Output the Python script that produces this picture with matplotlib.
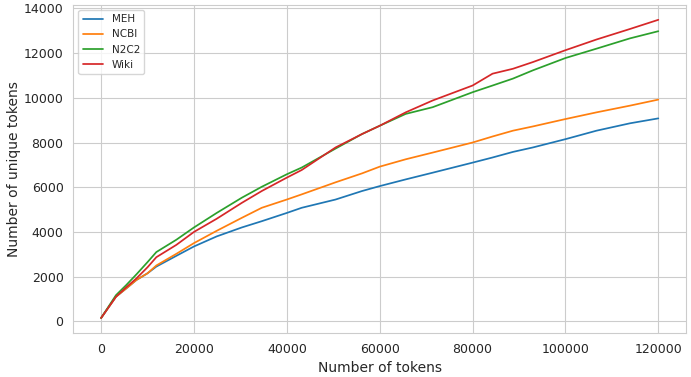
import matplotlib
matplotlib.use('Agg')
import matplotlib.pyplot as plt
import seaborn as sns

# values
n_tokens = [0, 3200, 5400, 7600, 10000, 11900, 16200, 20000, 24900, 30300,
            34600, 40000, 43200, 50500, 56200, 60000, 65600, 71400, 80000,
            84300, 88700, 93000, 100000, 106700, 113900, 120000]
meh = [150, 1100, 1470, 1850, 2150, 2450, 2930, 3350, 3800, 4200,
       4480, 4850, 5080, 5450, 5830, 6050, 6350, 6650, 7100,
       7330, 7580, 7780, 8150, 8530, 8860, 9080]
ncbi = [150, 1100, 1470, 1850, 2150, 2500, 3020, 3500, 4050, 4630,
        5080, 5450, 5680, 6220, 6620, 6920, 7250, 7550, 8000,
        8270, 8530, 8720, 9050, 9350, 9650, 9920]
n2c2 = [150, 1170, 1620, 2100, 2650, 3100, 3650, 4200, 4850, 5530,
        6020, 6580, 6880, 7730, 8380, 8750, 9280, 9580, 10250,
        10550, 10860, 11230, 11780, 12200, 12660, 12980]
wiki = [150, 1100, 1520, 1920, 2420, 2870, 3420, 4000, 4590, 5300,
        5830, 6430, 6770, 7780, 8380, 8750, 9350, 9880, 10550,
        11080, 11300, 11600, 12130, 12610, 13080, 13490]

series = [('MEH', meh), ('NCBI', ncbi), ('N2C2', n2c2), ('Wiki', wiki)]

sns.set_style('whitegrid')

fig = plt.figure(figsize=(6.91, 3.77), dpi=100)
ax = fig.add_axes([0.106, 0.117, 0.887, 0.870])
for name, vals in series:
    ax.plot(n_tokens, vals, lw=1.25, label=name)

ax.set_xlabel('Number of tokens', fontsize=10)
ax.set_ylabel('Number of unique tokens', fontsize=10, labelpad=2)
ax.tick_params(labelsize=9)
ax.legend(loc='upper left', fontsize=7.5)

fig.savefig('out.png', dpi=100)
